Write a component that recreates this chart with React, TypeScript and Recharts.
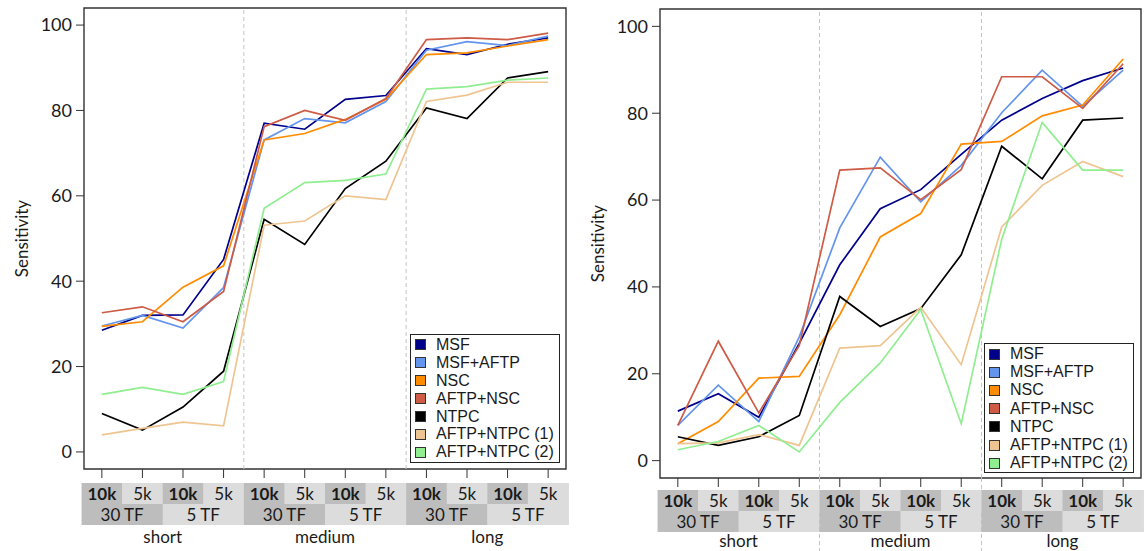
import React from "react";
import {
  LineChart,
  Line,
  XAxis,
  YAxis,
  ReferenceLine,
  ReferenceArea,
} from "recharts";

// x positions and their labels
const positions = [1, 2, 3, 4, 5, 6, 7, 8, 9, 10, 11, 12];
const sizeLabels = ["10k", "5k", "10k", "5k", "10k", "5k", "10k", "5k", "10k", "5k", "10k", "5k"];
const tfLabels = ["30 TF", "5 TF", "30 TF", "5 TF", "30 TF", "5 TF"];
const lengthLabels = ["short", "medium", "long"];
const yTicks = [0, 20, 40, 60, 80, 100];

const seriesNames = ["MSF", "MSF+AFTP", "NSC", "AFTP+NSC", "NTPC", "AFTP+NTPC (1)", "AFTP+NTPC (2)"];
const seriesColors = ["#00008b", "#6495ed", "#ff8c00", "#cd5b45", "#000000", "#eec591", "#90ee90"];

// left panel
const leftMsf = [28.5, 32.0, 32.1, 45.1, 77.0, 75.6, 82.6, 83.5, 94.5, 93.1, 95.5, 97.0];
const leftMsfAftp = [29.5, 32.0, 29.0, 38.5, 73.1, 78.1, 77.1, 82.1, 94.1, 96.1, 95.2, 97.4];
const leftNsc = [29.4, 30.5, 38.6, 43.6, 73.1, 74.6, 77.9, 82.6, 93.1, 93.5, 95.1, 96.6];
const leftAftpNsc = [32.6, 34.0, 30.5, 37.6, 76.2, 80.0, 77.7, 82.8, 96.6, 97.0, 96.6, 98.1];
const leftNtpc = [9.0, 5.1, 10.5, 18.9, 54.5, 48.6, 61.7, 68.1, 80.6, 78.1, 87.6, 89.1];
const leftAftpNtpc1 = [4.0, 5.5, 7.0, 6.1, 53.1, 54.1, 60.0, 59.1, 82.1, 83.6, 86.6, 86.6];
const leftAftpNtpc2 = [13.5, 15.1, 13.5, 16.5, 57.1, 63.1, 63.6, 65.1, 85.0, 85.6, 87.1, 87.6];

// right panel
const rightMsf = [11.4, 15.4, 10.0, 27.0, 45.1, 58.0, 62.4, 70.5, 78.4, 83.4, 87.5, 90.4];
const rightMsfAftp = [8.1, 17.4, 9.0, 28.5, 53.6, 69.9, 59.6, 68.0, 80.1, 89.9, 81.6, 89.9];
const rightNsc = [3.9, 9.0, 19.0, 19.4, 33.6, 51.5, 56.9, 72.9, 73.5, 79.4, 81.9, 92.5];
const rightAftpNsc = [8.1, 27.5, 11.0, 26.5, 66.9, 67.4, 60.1, 67.0, 88.4, 88.4, 81.1, 91.4];
const rightNtpc = [5.5, 3.5, 5.5, 10.4, 37.8, 30.9, 35.0, 47.4, 72.4, 64.9, 78.4, 78.9];
const rightAftpNtpc1 = [3.9, 4.1, 6.0, 3.5, 25.9, 26.5, 35.3, 22.1, 53.8, 63.4, 68.9, 65.4];
const rightAftpNtpc2 = [2.5, 4.4, 8.1, 2.0, 13.4, 22.5, 34.8, 8.5, 51.0, 77.9, 66.9, 66.9];

const leftSeries = [leftMsf, leftMsfAftp, leftNsc, leftAftpNsc, leftNtpc, leftAftpNtpc1, leftAftpNtpc2];
const rightSeries = [rightMsf, rightMsfAftp, rightNsc, rightAftpNsc, rightNtpc, rightAftpNtpc1, rightAftpNtpc2];

const buildRows = (series: number[][]) =>
  positions.map((x, i) => {
    const row: Record<string, number> = { x };
    series.forEach((s, k) => (row[`s${k}`] = s[i]));
    return row;
  });

const DARK = "#bdbdbd";
const LIGHT = "#dcdcdc";
const TEXT = "#1a1a1a";
const TICK_SIZE = 9;

function GroupTick(props: any) {
  const { x, y, index, cellW, gap, rowH, extendDash, svgH, labelOffset } = props;
  const hw = cellW / 2;
  const top = y + gap;
  const even = index % 2 === 0;
  return (
    <g>
      {extendDash && (index === 3 || index === 7) && (
        <line
          x1={x + hw}
          x2={x + hw}
          y1={y - TICK_SIZE}
          y2={svgH}
          stroke="#c4c4c4"
          strokeDasharray="4 3"
        />
      )}
      <rect x={x - hw} y={top} width={cellW + 0.5} height={rowH} fill={even ? DARK : LIGHT} />
      <text
        x={x}
        y={top + rowH / 2}
        dominantBaseline="central"
        textAnchor="middle"
        fontSize={17}
        fontWeight={even ? 700 : 400}
        fill={TEXT}
      >
        {sizeLabels[index]}
      </text>
      {even && (
        <>
          <rect
            x={x - hw}
            y={top + rowH}
            width={cellW * 2 + 0.5}
            height={rowH}
            fill={index % 4 === 0 ? DARK : LIGHT}
          />
          <text
            x={x + hw}
            y={top + rowH * 1.5}
            dominantBaseline="central"
            textAnchor="middle"
            fontSize={17}
            fill={TEXT}
          >
            {tfLabels[index / 2]}
          </text>
        </>
      )}
      {index % 4 === 0 && (
        <text
          x={x + cellW * 1.5}
          y={top + rowH * 2 + labelOffset}
          dominantBaseline="central"
          textAnchor="middle"
          fontSize={17}
          fill={TEXT}
        >
          {lengthLabels[index / 4]}
        </text>
      )}
    </g>
  );
}

interface PanelProps {
  series: number[][];
  left: number;
  width: number;
  marginTop: number;
  marginRight: number;
  xAxisHeight: number;
  gap: number;
  labelOffset: number;
  extendDash: boolean;
  legend: { left: number; top: number; rowH: number; height: number };
}

function Panel({ series, left, width, marginTop, marginRight, xAxisHeight, gap, labelOffset, extendDash, legend }: PanelProps) {
  const height = 551;
  const yW = 84;
  const plotW = width - yW - marginRight;
  const cellW = plotW / 11.88;
  const data = buildRows(series);
  return (
    <div style={{ position: "absolute", left, top: 0, width, height }}>
      <LineChart
        width={width}
        height={height}
        data={data}
        margin={{ top: marginTop, right: marginRight, bottom: 0, left: 0 }}
      >
        <XAxis
          dataKey="x"
          type="number"
          domain={[0.56, 12.44]}
          allowDataOverflow
          ticks={positions}
          interval={0}
          axisLine={false}
          tickLine={{ stroke: "#333" }}
          tickSize={TICK_SIZE}
          tickMargin={0}
          height={xAxisHeight}
          tick={(p: any) => (
            <GroupTick
              {...p}
              cellW={cellW}
              gap={gap}
              rowH={21}
              labelOffset={labelOffset}
              extendDash={extendDash}
              svgH={height}
            />
          )}
        />
        <YAxis
          type="number"
          domain={[-4, 104]}
          allowDataOverflow
          ticks={yTicks}
          width={yW}
          axisLine={false}
          tickLine={{ stroke: "#333" }}
          tickSize={8}
          tickMargin={4}
          tick={{ fontSize: 18, fill: TEXT }}
          label={{
            content: (lp: any) => {
              const vb = lp.viewBox;
              const cx = vb.x + vb.width - 63;
              const cy = vb.y + vb.height / 2;
              return (
                <text
                  x={cx}
                  y={cy}
                  transform={`rotate(-90 ${cx} ${cy})`}
                  textAnchor="middle"
                  dominantBaseline="central"
                  fontSize={17}
                  fill={TEXT}
                >
                  Sensitivity
                </text>
              );
            },
          }}
        />
        <ReferenceLine x={4.5} stroke="#c4c4c4" strokeDasharray="4 3" />
        <ReferenceLine x={8.5} stroke="#c4c4c4" strokeDasharray="4 3" />
        {series.map((_, k) => (
          <Line
            key={seriesNames[k]}
            type="linear"
            dataKey={`s${k}`}
            stroke={seriesColors[k]}
            strokeWidth={1.7}
            dot={false}
            isAnimationActive={false}
          />
        ))}
        <ReferenceArea
          x1={0.56}
          x2={12.44}
          y1={-4}
          y2={104}
          fill="none"
          fillOpacity={0}
          stroke="#333"
          strokeWidth={1.4}
        />
      </LineChart>
      <div
        style={{
          position: "absolute",
          left: legend.left - left,
          top: legend.top,
          width: 150,
          height: legend.height,
          boxSizing: "border-box",
          border: "1px solid #222",
          background: "#fff",
          paddingTop: 1,
          fontFamily: "'Liberation Sans', Arial, sans-serif",
        }}
      >
        {seriesNames.map((name, k) => (
          <div
            key={name}
            style={{ display: "flex", alignItems: "center", height: legend.rowH, fontSize: 16, color: TEXT }}
          >
            <span
              style={{
                display: "inline-block",
                width: 9,
                height: 9,
                marginLeft: 4,
                marginRight: 10,
                background: seriesColors[k],
                border: "1px solid #333",
              }}
            />
            <span style={{ lineHeight: 1, whiteSpace: "nowrap" }}>{name}</span>
          </div>
        ))}
      </div>
    </div>
  );
}

export default function App() {
  return (
    <div
      style={{
        position: "absolute",
        left: 0,
        top: 0,
        width: 1147,
        height: 551,
        background: "#fff",
        fontFamily: "Lato, 'Liberation Sans', sans-serif",
        overflow: "hidden",
      }}
    >
      <Panel
        series={leftSeries}
        left={0}
        width={580}
        marginTop={8}
        marginRight={14}
        xAxisHeight={82}
        gap={5}
        labelOffset={11}
        extendDash={false}
        legend={{ left: 410, top: 334, rowH: 17.9, height: 129 }}
      />
      <Panel
        series={rightSeries}
        left={576}
        width={571}
        marginTop={9}
        marginRight={6}
        xAxisHeight={73}
        gap={3}
        labelOffset={8}
        extendDash={true}
        legend={{ left: 984, top: 343, rowH: 18.2, height: 130 }}
      />
    </div>
  );
}
